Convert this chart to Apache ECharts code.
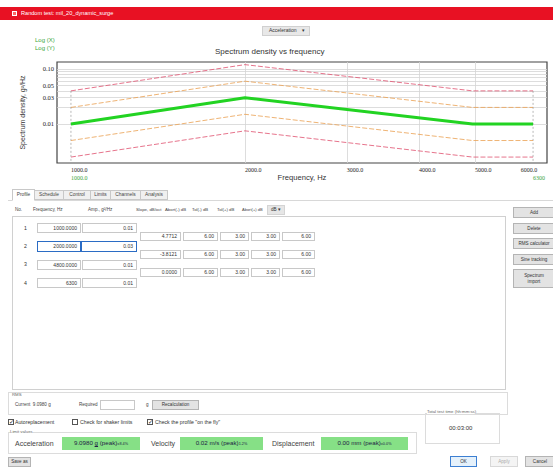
<!DOCTYPE html>
<html>
<head>
<meta charset="utf-8">
<script src="https://cdn.jsdelivr.net/npm/echarts@6/dist/echarts.min.js"></script>
<style>
body{margin:0;background:#fff;width:553px;height:469px;overflow:hidden;font-family:'Liberation Sans',Arial,sans-serif;position:relative}
#chart{position:absolute;left:0;top:0;width:553px;height:469px}
.a{position:absolute;white-space:nowrap;line-height:1;font-size:5.2px;color:#333}
.h{font-size:4.6px;color:#444}
.box{position:absolute;border:1px solid #c8c8c8;background:#fff;box-sizing:border-box;font-size:5px;color:#333;line-height:1;display:flex;align-items:center;justify-content:flex-end;padding-right:3px;white-space:nowrap}
.btn{position:absolute;border:1px solid #b4b4b4;background:#e3e3e3;box-sizing:border-box;font-size:4.6px;display:flex;align-items:center;justify-content:center;color:#333;line-height:1.15;text-align:center;white-space:nowrap}
.grp{position:absolute;border:1px solid #dcdcdc;box-sizing:border-box}
.tab{position:absolute;top:190px;height:10px;border:1px solid #c8c8c8;background:#f0f0f0;box-sizing:border-box;font-size:4.8px;color:#444;display:flex;align-items:center;justify-content:center;line-height:1}
.cb{position:absolute;width:6px;height:6px;border:1px solid #555;box-sizing:border-box;background:#fff;font-size:6px;line-height:4px;text-align:center;color:#222}
.grn{position:absolute;background:#86e086;height:13px;box-sizing:border-box;font-size:6.2px;color:#224;display:flex;align-items:center;justify-content:center;white-space:nowrap;line-height:1}
.grn sup{font-size:3.8px;vertical-align:5px;line-height:0}
.lbl{font-size:7px;color:#444}
.cap{font-size:4.3px;color:#666;background:#fff}
</style>
</head>
<body>
<div id="chart"></div>

<!-- title bar -->
<div style="position:absolute;left:0;top:7px;width:553px;height:13px;background:#e81123"></div>
<div style="position:absolute;left:12px;top:11px;width:5px;height:5px;border:1px solid #fff;box-sizing:border-box;background:#f66"></div>
<div class="a" style="left:21px;top:11px;color:#fff;font-size:5.6px">Random test: mil_20_dynamic_surge</div>

<!-- dropdown -->
<div class="btn" style="left:262px;top:26px;width:48px;height:10px;background:#e8e8e8;border-color:#d0d0d0;justify-content:flex-start;padding-left:6px;font-size:5px">Acceleration&nbsp;&nbsp;&nbsp;&nbsp;▾</div>

<div class="a" style="left:35px;top:37px;color:#3aa63a;font-size:6px">Log (X)</div>
<div class="a" style="left:35px;top:45px;color:#3aa63a;font-size:6px">Log (Y)</div>

<!-- tabs -->
<div style="position:absolute;left:8px;top:200px;width:545px;height:1px;background:#d8d8d8"></div>
<div class="tab" style="left:12px;width:23px;background:#fff;border-bottom-color:#fff;top:189px;height:12px">Profile</div>
<div class="tab" style="left:34px;width:30px">Schedule</div>
<div class="tab" style="left:63px;width:28px">Control</div>
<div class="tab" style="left:90px;width:21px">Limits</div>
<div class="tab" style="left:110px;width:31px">Channels</div>
<div class="tab" style="left:140px;width:28px">Analysis</div>

<!-- header row -->
<div class="a h" style="left:15px;top:208px">No.</div>
<div class="a h" style="left:33px;top:208px">Frequency, Hz</div>
<div class="a h" style="left:88px;top:208px">Amp., g²/Hz</div>
<div class="a h" style="left:136px;top:208px;font-size:4.3px">Slope, dB/oct</div>
<div class="a h" style="left:165px;top:208px;font-size:4.3px">Abort(-) dB</div>
<div class="a h" style="left:192px;top:208px;font-size:4.3px">Tol(-) dB</div>
<div class="a h" style="left:217px;top:208px;font-size:4.3px">Tol(+) dB</div>
<div class="a h" style="left:242px;top:208px;font-size:4px">Abort(+) dB</div>
<div class="btn" style="left:267px;top:205px;width:18px;height:10px;background:#e6e6e6;border-color:#d4d4d4">dB ▾</div>

<!-- table -->
<div class="grp" style="left:12px;top:216px;width:494px;height:174px;border-color:#d0d0d0"></div>
<div class="a" style="left:24px;top:226px">1</div>
<div class="a" style="left:24px;top:244px">2</div>
<div class="a" style="left:24px;top:262px">3</div>
<div class="a" style="left:24px;top:281px">4</div>
<div class="box" style="left:37px;top:223px;width:44px;height:10px">1000.0000</div>
<div class="box" style="left:82px;top:223px;width:55px;height:10px">0.01</div>
<div class="box" style="left:37px;top:241px;width:44px;height:11px;border:1.5px solid #2b6cc4">2000.0000</div>
<div class="box" style="left:81px;top:241px;width:56px;height:11px;border:1.5px solid #2b6cc4">0.03</div>
<div class="box" style="left:37px;top:260px;width:44px;height:10px">4800.0000</div>
<div class="box" style="left:82px;top:260px;width:55px;height:10px">0.01</div>
<div class="box" style="left:37px;top:278px;width:44px;height:10px">6300</div>
<div class="box" style="left:82px;top:278px;width:55px;height:10px">0.01</div>

<div class="box" style="left:140px;top:232px;width:41px;height:9px">4.7712</div>
<div class="box" style="left:183px;top:232px;width:35px;height:9px">6.00</div>
<div class="box" style="left:220px;top:232px;width:29px;height:9px">3.00</div>
<div class="box" style="left:251px;top:232px;width:29px;height:9px">3.00</div>
<div class="box" style="left:282px;top:232px;width:33px;height:9px">6.00</div>

<div class="box" style="left:140px;top:250px;width:41px;height:9px">-3.8121</div>
<div class="box" style="left:183px;top:250px;width:35px;height:9px">6.00</div>
<div class="box" style="left:220px;top:250px;width:29px;height:9px">3.00</div>
<div class="box" style="left:251px;top:250px;width:29px;height:9px">3.00</div>
<div class="box" style="left:282px;top:250px;width:33px;height:9px">6.00</div>

<div class="box" style="left:140px;top:268px;width:41px;height:9px">0.0000</div>
<div class="box" style="left:183px;top:268px;width:35px;height:9px">6.00</div>
<div class="box" style="left:220px;top:268px;width:29px;height:9px">3.00</div>
<div class="box" style="left:251px;top:268px;width:29px;height:9px">3.00</div>
<div class="box" style="left:282px;top:268px;width:33px;height:9px">6.00</div>

<!-- right buttons -->
<div class="btn" style="left:513px;top:207px;width:42px;height:11px">Add</div>
<div class="btn" style="left:513px;top:223px;width:42px;height:11px">Delete</div>
<div class="btn" style="left:513px;top:238px;width:42px;height:11px">RMS calculator</div>
<div class="btn" style="left:513px;top:254px;width:42px;height:11px">Sine tracking</div>
<div class="btn" style="left:513px;top:269px;width:42px;height:19px;white-space:normal">Spectrum<br>import</div>

<!-- RMS -->
<div class="grp" style="left:8px;top:392px;width:500px;height:23px"></div>
<div class="a cap" style="left:12px;top:393px">RMS</div>
<div class="a h" style="left:15px;top:403px">Current&nbsp;&nbsp;9.0980 g</div>
<div class="a h" style="left:79px;top:403px">Required</div>
<div class="box" style="left:100px;top:400px;width:35px;height:10px"></div>
<div class="a h" style="left:146px;top:403px">g</div>
<div class="btn" style="left:152px;top:400px;width:47px;height:10px">Recalculation</div>

<!-- checkboxes -->
<div class="cb" style="left:8px;top:419px">✓</div>
<div class="a" style="left:15px;top:420px">Autoreplacement</div>
<div class="cb" style="left:72px;top:419px"></div>
<div class="a" style="left:80px;top:420px">Check for shaker limits</div>
<div class="cb" style="left:147px;top:419px">✓</div>
<div class="a" style="left:155px;top:420px">Check the profile "on the fly"</div>

<!-- limit values -->
<div class="grp" style="left:8px;top:432px;width:409px;height:22px"></div>
<div class="a cap" style="left:10px;top:430px">Limit values</div>
<div class="a lbl" style="left:15px;top:440px">Acceleration</div>
<div class="grn" style="left:62px;top:437px;width:78px">9.0980&nbsp;<u>g</u>&nbsp;(peak)<sup>±8.4%</sup></div>
<div class="a lbl" style="left:151px;top:440px">Velocity</div>
<div class="grn" style="left:180px;top:437px;width:83px">0.02 m/s (peak)<sup>1.2%</sup></div>
<div class="a lbl" style="left:272px;top:440px">Displacement</div>
<div class="grn" style="left:321px;top:437px;width:87px">0.00 mm (peak)<sup>±0.0%</sup></div>

<!-- total test time -->
<div class="grp" style="left:425px;top:413px;width:75px;height:31px"></div>
<div class="a cap" style="left:427px;top:410px">Total test time (hh:mm:ss)</div>
<div class="a" style="left:449px;top:425px;font-size:6px">00:03:00</div>

<!-- bottom buttons -->
<div class="btn" style="left:8px;top:457px;width:23px;height:10px">Save as</div>
<div class="btn" style="left:450px;top:456px;width:27px;height:11px;border-color:#3c7fd2;background:#e5f1fb">OK</div>
<div class="btn" style="left:490px;top:456px;width:28px;height:11px;border-color:#d8d8d8;background:#f4f4f4;color:#aaa">Apply</div>
<div class="btn" style="left:525px;top:456px;width:30px;height:11px">Cancel</div>

<script>
// profile data
const freqs = [1000, 2000, 4950, 6300];
const amps = [0.01, 0.03, 0.01, 0.01];
const tolUpper = [0.02, 0.06, 0.02, 0.02];
const tolLower = [0.005, 0.015, 0.005, 0.005];
const abortUpper = [0.04, 0.12, 0.04, 0.04];
const abortLower = [0.0025, 0.0075, 0.0025, 0.0025];
// axis ticks
const xTickValues = [1000, 2000, 3000, 4000, 5000, 6000];
const xTickLabels = ['1000.0', '2000.0', '3000.0', '4000.0', '5000.0', '6000.0'];
const xGridValues = [2000, 3000, 4000, 5000];
const xEdgeValues = [1000, 6300];
const xEdgeLabels = ['1000.0', '6300'];
const yTickValues = [0.01, 0.03, 0.05, 0.1];
const yTickLabels = ['0.01', '0.03', '0.05', '0.10'];
const yGridValues = [0.01, 0.02, 0.03, 0.04, 0.05, 0.06, 0.07, 0.08, 0.09, 0.1];
const xRange = [946, 6660];
const yRange = [0.00195, 0.134];

function pairs(xs, ys) { return xs.map((x, i) => [x, ys[i]]); }
function lookup(vals, labels) {
  return v => { let best = 0; vals.forEach((t, i) => { if (Math.abs(t - v) < Math.abs(vals[best] - v)) best = i; }); return labels[best]; };
}

const chart = echarts.init(document.getElementById('chart'), null, {renderer: 'svg'});
const serif = 'Liberation Serif';
const sans = 'Liberation Sans';
chart.setOption({
  animation: false,
  title: {text: 'Spectrum density vs frequency', left: 215, top: 47, padding: 0, textStyle: {fontSize: 8, fontWeight: 'normal', color: '#333', fontFamily: sans}},
  grid: {left: 57, top: 62, width: 490, height: 101, show: true, borderColor: '#444', borderWidth: 1.2},
  xAxis: [{
    type: 'log', min: xRange[0], max: xRange[1],
    axisLine: {show: false}, axisTick: {show: false, customValues: xGridValues},
    splitLine: {show: true, lineStyle: {color: '#d4d4d4', width: 0.8}},
    axisLabel: {customValues: xTickValues, formatter: lookup(xTickValues, xTickLabels), align: 'left', margin: 4, fontSize: 6, fontFamily: serif, color: '#222'},
    name: 'Frequency, Hz', nameLocation: 'middle', nameGap: 10,
    nameTextStyle: {fontSize: 7.6, fontFamily: sans, color: '#333'}
  }, {
    type: 'log', min: xRange[0], max: xRange[1], position: 'bottom', offset: 8,
    axisLine: {show: false}, axisTick: {show: false, customValues: xEdgeValues}, splitLine: {show: false},
    axisLabel: {customValues: xEdgeValues, formatter: lookup(xEdgeValues, xEdgeLabels), align: 'left', margin: 4, fontSize: 6, fontFamily: serif, color: '#3aa63a'}
  }],
  yAxis: {
    type: 'log', min: yRange[0], max: yRange[1],
    axisLine: {show: false}, axisTick: {show: false, customValues: yGridValues},
    splitLine: {show: true, lineStyle: {color: '#d4d4d4', width: 0.8}},
    axisLabel: {customValues: yTickValues, formatter: lookup(yTickValues, yTickLabels), margin: 3, fontSize: 6.5, fontFamily: serif, color: '#222'},
    name: 'Spectrum density, g²/Hz', nameLocation: 'middle', nameGap: 31, nameRotate: 90,
    nameTextStyle: {fontSize: 7, fontFamily: sans, color: '#333'}
  },
  series: [
    {type: 'line', data: [[xEdgeValues[0], abortUpper[0]], [xEdgeValues[0], yRange[0]]], symbol: 'none', lineStyle: {color: '#999', width: 0.7, type: [2, 2]}},
    {type: 'line', data: [[xEdgeValues[1], abortUpper[3]], [xEdgeValues[1], yRange[0]]], symbol: 'none', lineStyle: {color: '#999', width: 0.7, type: [2, 2]}},
    {type: 'line', data: pairs(freqs, abortUpper), symbol: 'none', lineStyle: {color: '#e0506e', width: 0.8, type: [5, 2]}},
    {type: 'line', data: pairs(freqs, abortLower), symbol: 'none', lineStyle: {color: '#e0506e', width: 0.8, type: [5, 2]}},
    {type: 'line', data: pairs(freqs, tolUpper), symbol: 'none', lineStyle: {color: '#eaa050', width: 0.8, type: [5, 2]}},
    {type: 'line', data: pairs(freqs, tolLower), symbol: 'none', lineStyle: {color: '#eaa050', width: 0.8, type: [5, 2]}},
    {type: 'line', data: pairs(freqs, amps), symbol: 'none', lineStyle: {color: '#22d322', width: 3}}
  ]
});
</script>
</body>
</html>
